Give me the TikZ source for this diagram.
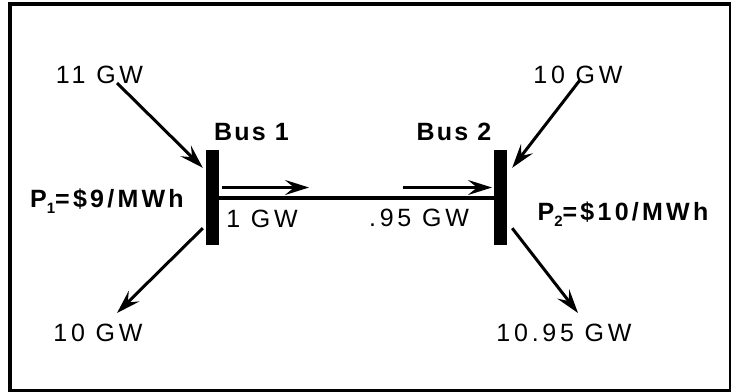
\documentclass[tikz,border=0pt]{standalone}
\usepackage{fontspec}
\setmainfont{Liberation Sans}
\newfontfamily\gwfont[LetterSpace=15]{Liberation Sans}
\newfontfamily\busfont[LetterSpace=9]{Liberation Sans Bold}
\newfontfamily\pricefont[LetterSpace=13]{Liberation Sans Bold}
\usetikzlibrary{arrows.meta}
\newcommand{\psub}[1]{\raisebox{-6pt}{\fontsize{15}{15}\selectfont #1}}
\tikzset{l/.style={font=\gwfont\fontsize{25}{26}\selectfont, inner sep=0pt}}
\tikzset{m/.style={font=\busfont\fontsize{25}{26}\selectfont, inner sep=0pt}}
\tikzset{pr/.style={font=\pricefont\fontsize{25}{26}\selectfont, inner sep=0pt}}
\tikzset{bus/.style={fill=black, inner sep=0pt, minimum width=13pt, minimum height=95pt}}
\tikzset{flow/.style={line width=3pt, -{Stealth[length=24pt,width=15pt,inset=9pt]}}}

\begin{document}
\begin{tikzpicture}[x=1pt,y=-1pt]
        \useasboundingbox (0,0) rectangle (731,391);
        \draw [line width=4pt] (10,4) rectangle (731,391);
        % buses
        \node [bus] (bus1) at (212.5,197.5) {};
        \node [bus] (bus2) at (500.5,197.5) {};
        \node [m, anchor=base] (b1) at (251.5,140) {Bus 1};
        \node [m, anchor=base] (b2) at (454,140) {Bus 2};
        \node [pr, anchor=base] (p1) at (107,207) {P\psub{1}=\$9/MWh};
        \node [pr, anchor=base] (p2) at (623,220) {P\psub{2}=\$10/MWh};
        % injections and loads
        \node [l, anchor=base] (g1) at (99.5,83) {11 GW};
        \node [l, anchor=base] (g2) at (578,83) {10 GW};
        \node [l, anchor=base] (d1) at (98,341) {10 GW};
        \node [l, anchor=base] (d2) at (564,341) {10.95 GW};
        \node [l, anchor=base] (t1) at (262,227) {1 GW};
        \node [l, anchor=base] (t2) at (419,226) {.95 GW};
        \coordinate (g1e) at (117,83);
        \coordinate (g2e) at (580,80);
        \coordinate (d1e) at (117,313);
        \coordinate (d2e) at (578,313);
        \draw [flow] (g1e) -- ([shift={(-3,18)}]bus1.north west);
        \draw [flow] (g2e) -- ([shift={(5,18)}]bus2.north east);
        \draw [flow] ([shift={(-3,-17)}]bus1.south west) -- (d1e);
        \draw [flow] ([shift={(5,-17)}]bus2.south east) -- (d2e);
        % line and flows
        \draw [line width=4pt] (bus1) -- (bus2);
        \coordinate (f1s) at (222,187.5);
        \coordinate (f1e) at (309,187.5);
        \coordinate (f2s) at (403,187.5);
        \coordinate (f2e) at (492,187.5);
        \draw [flow] (f1s) -- (f1e);
        \draw [flow] (f2s) -- (f2e);
\end{tikzpicture}
\end{document}
